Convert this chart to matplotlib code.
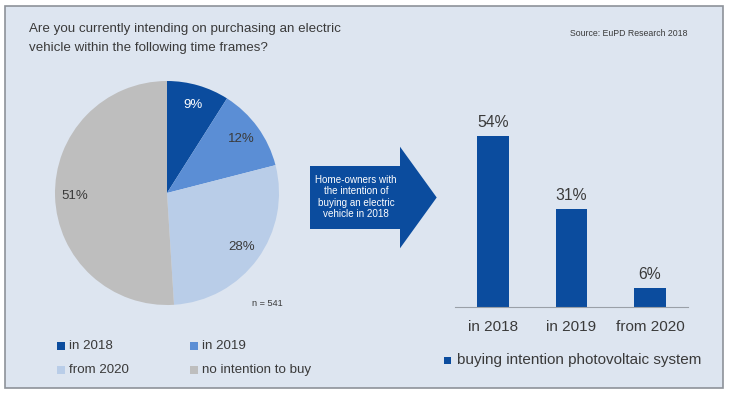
import matplotlib
matplotlib.use("Agg")
import matplotlib.pyplot as plt
from matplotlib.patches import Rectangle, Polygon

plt.rcParams['font.family'] = ['Liberation Sans', 'DejaVu Sans']

# ============================
# Data
# ============================
title = "Are you currently intending on purchasing an electric\nvehicle within the following time frames?"
source = "Source: EuPD Research 2018"

pie_labels = ["in 2018", "in 2019", "from 2020", "no intention to buy"]
pie_values = [9, 12, 28, 51]
sample_note = "n = 541"

bar_labels = ["in 2018", "in 2019", "from 2020"]
bar_values = [54, 31, 6]
bar_legend = "buying intention photovoltaic system"

arrow_text = "Home-owners with\nthe intention of\nbuying an electric\nvehicle in 2018"

# ============================
# Style
# ============================
W, H = 732, 396
DARK = "#0b4c9e"
pie_colors = [DARK, "#5b8ed5", "#b9cde8", "#bebebe"]
TXT = "#3a3a3a"
PANEL = "#dde5f0"


def box(x0, y0, x1, y1):
    # pixel box (origin top-left) -> figure fraction
    return [x0 / W, 1 - y1 / H, (x1 - x0) / W, (y1 - y0) / H]


fig = plt.figure(figsize=(W / 100, H / 100), dpi=100)
fig.patch.set_facecolor("white")

# background layer: panel, arrow, texts
bg = fig.add_axes([0, 0, 1, 1])
bg.set_xlim(0, W)
bg.set_ylim(H, 0)
bg.axis("off")
bg.add_patch(Rectangle((4.5, 5.5), 718.5, 382, facecolor=PANEL,
                       edgecolor="#8d9299", lw=1.2))

bg.text(29, 23, title, fontsize=9.6, color=TXT, va="top", ha="left",
        linespacing=1.8)
bg.text(687, 33, source, fontsize=6.3, color=TXT, va="center", ha="right")

# arrow
bg.add_patch(Polygon([(310, 166), (400, 166), (400, 146.7), (436.7, 197.5),
                      (400, 248.3), (400, 229), (310, 229)],
                     closed=True, facecolor=DARK, edgecolor="none"))
bg.text(356, 197, arrow_text, fontsize=7.1, color="white", ha="center",
        va="center", linespacing=1.15)

bg.text(267, 303, sample_note, fontsize=6.6, color=TXT, ha="center", va="center")

# pie legend (2 x 2)
leg_pos = [(57, 346), (190, 346), (57, 370), (190, 370)]
for (lx, ly), lab, col in zip(leg_pos, pie_labels, pie_colors):
    bg.add_patch(Rectangle((lx, ly - 3.7), 7.5, 7.5, facecolor=col, edgecolor="none"))
    bg.text(lx + 12, ly, lab, fontsize=9.6, color=TXT, va="center", ha="left")

# bar legend
bg.add_patch(Rectangle((444, 356.5), 7, 7, facecolor=DARK, edgecolor="none"))
bg.text(457, 360, bar_legend, fontsize=11, color=TXT, va="center", ha="left")

# ============================
# Pie
# ============================
ax1 = fig.add_axes(box(55, 81, 279, 305))
wedges, _, autotexts = ax1.pie(pie_values, colors=pie_colors, startangle=90,
                               counterclock=False, radius=1,
                               autopct=lambda p: f"{p:.0f}%", pctdistance=0.82,
                               wedgeprops=dict(linewidth=0),
                               textprops=dict(fontsize=9.5, color=TXT))
autotexts[0].set_color("white")
ax1.set_xlim(-1, 1)
ax1.set_ylim(-1, 1)
ax1.set_aspect("equal")

# ============================
# Bars
# ============================
ax2 = fig.add_axes(box(455, 117, 688, 306.7))
ax2.set_facecolor("none")
x = range(len(bar_values))
bars = ax2.bar(x, bar_values, width=0.395, color=DARK)
ax2.bar_label(bars, labels=[f"{v}%" for v in bar_values], padding=4,
              fontsize=11.3, color=TXT)
ax2.set_xlim(-0.484, 2.484)
ax2.set_ylim(0, 60)
ax2.set_xticks(list(x), bar_labels)
ax2.tick_params(axis="x", length=0, pad=9.5, labelsize=11, labelcolor=TXT)
ax2.set_yticks([])
for s in ["top", "left", "right"]:
    ax2.spines[s].set_visible(False)
ax2.spines["bottom"].set_color("#9aa0a8")

fig.savefig("out.png", dpi=100, facecolor=fig.get_facecolor())
